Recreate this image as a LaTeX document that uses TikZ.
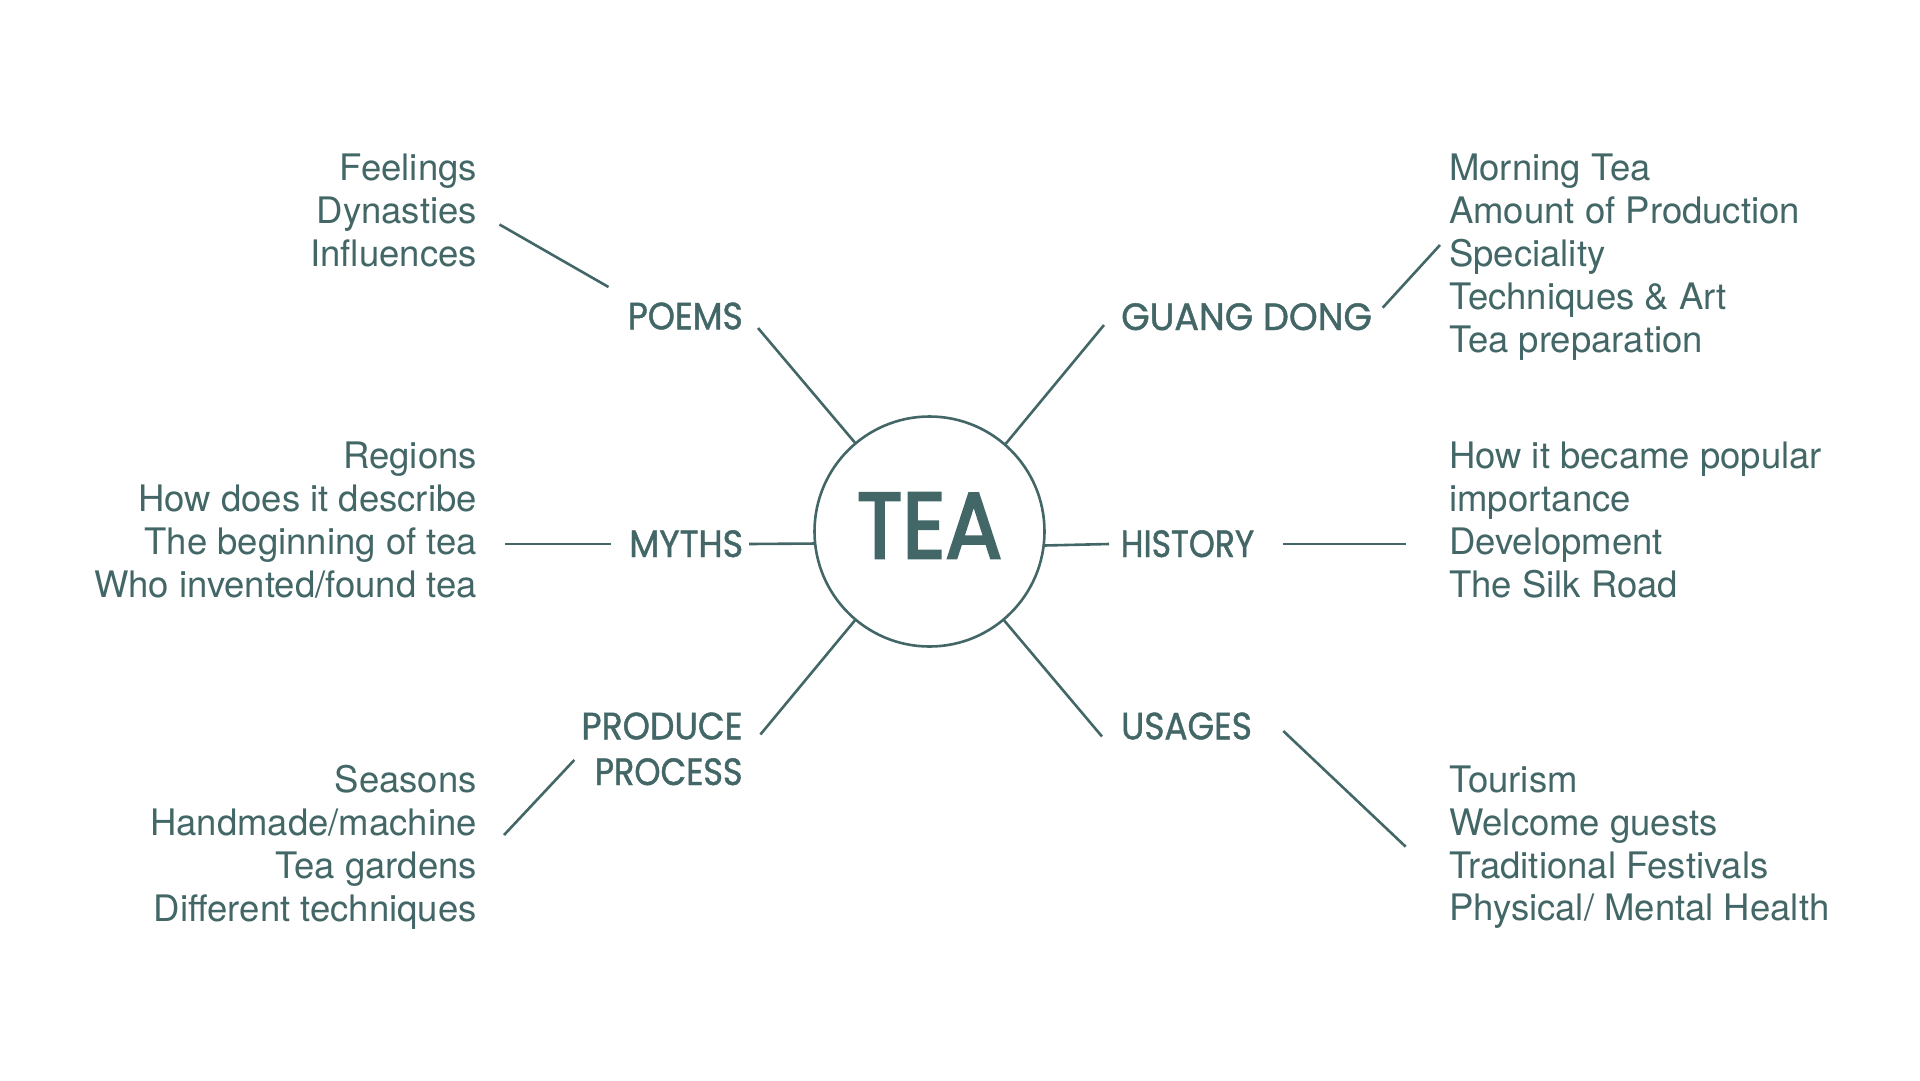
\documentclass[tikz,border=0pt]{standalone}
\usepackage{fontspec}
\usepackage{graphicx}
\setmainfont{TeX Gyre Heros}
\newfontfamily\labelfont{Poppins}[FakeBold=1.2]
\newfontfamily\centrefont{Poppins}[FakeBold=3]
\definecolor{teagrey}{RGB}{67,103,102}
\newcommand\fitlabel[2]{\resizebox{#1}{\height}{\fontsize{38}{38}\labelfont #2}}
\begin{document}
\begin{tikzpicture}[x=1pt,y=-1pt,
  item/.style={font=\fontsize{36.5}{43.3}\selectfont, text=teagrey, inner sep=0pt},
  itemR/.style={item, anchor=base east},
  itemL/.style={item, anchor=base west},
  topic/.style={text=teagrey, inner sep=0pt},
  topicR/.style={topic, anchor=base east},
  topicL/.style={topic, anchor=base west},
  link/.style={draw=teagrey, line width=2.6pt, line cap=butt}]
\fill[white] (0,0) rectangle (1920,1080);
\useasboundingbox (0,0) rectangle (1920,1080);

% centre
\node[circle, draw=teagrey, line width=2.6pt, minimum size=230pt, inner sep=0pt, outer sep=0pt] (tea) at (929.5,531.5) {};
\node[topic, anchor=base] (teatext) at (929.5,558) {\resizebox{145pt}{\height}{\fontsize{93}{93}\centrefont TEA}};

% topic labels
\node[topicR] (poems) at (743,329.3) {\fitlabel{115pt}{POEMS}};
\node[topicL] (guang) at (1121,330) {\fitlabel{250.7pt}{GUANG DONG}};
\node[topicR] (myths) at (743.3,557) {\fitlabel{113.8pt}{MYTHS}};
\node[topicL] (history) at (1120.5,557) {\fitlabel{133.5pt}{HISTORY}};
\node[topicR] (produce) at (742.7,739.3) {\fitlabel{161pt}{PRODUCE}};
\node[topicR] (process) at (742.7,785) {\fitlabel{147.7pt}{PROCESS}};
\node[topicL] (usages) at (1121,739.3) {\fitlabel{130.7pt}{USAGES}};

% item lists
\node[itemR] (pm1) at (477,180) {Feelings};
\node[itemR] (pm2) at (477,223.3) {Dynasties};
\node[itemR] (pm3) at (477,266.7) {Influences};

\node[itemL] (gd1) at (1449,180) {Morning Tea};
\node[itemL] (gd2) at (1449,223) {Amount of Production};
\node[itemL] (gd3) at (1449,266) {Speciality};
\node[itemL] (gd4) at (1449,309) {Techniques \& Art};
\node[itemL] (gd5) at (1449,352) {Tea preparation};

\node[itemR] (my1) at (477,468.7) {Regions};
\node[itemR] (my2) at (477,511.6) {How does it describe};
\node[itemR] (my3) at (477,554.4) {The beginning of tea};
\node[itemR] (my4) at (477,597.3) {Who invented/found tea};

\node[itemL] (hi1) at (1449,468.7) {How it became popular};
\node[itemL] (hi2) at (1449,511.6) {importance};
\node[itemL] (hi3) at (1449,554.4) {Development};
\node[itemL] (hi4) at (1449,597.3) {The Silk Road};

\node[itemR] (pp1) at (477,792) {Seasons};
\node[itemR] (pp2) at (477,835) {Handmade/machine};
\node[itemR] (pp3) at (477,878.3) {Tea gardens};
\node[itemR] (pp4) at (477,921) {Different techniques};

\node[itemL] (us1) at (1449,792.7) {Tourism};
\node[itemL] (us2) at (1449,835) {Welcome guests};
\node[itemL] (us3) at (1449,878.3) {Traditional Festivals};
\node[itemL] (us4) at (1449,920.7) {Physical/ Mental Health};

% connector end points
\coordinate (poemsIn) at (758,328);
\coordinate (poemsOutA) at (608.5,287);
\coordinate (poemsOutB) at (499.5,224.5);
\coordinate (guangIn) at (1104,325);
\coordinate (guangOutA) at (1382.7,307.7);
\coordinate (guangOutB) at (1440,245);
\coordinate (mythsIn) at (749,544);
\coordinate (mythsOutA) at (611,544);
\coordinate (mythsOutB) at (504.5,544);
\coordinate (histIn) at (1109,544);
\coordinate (histOutA) at (1283,544);
\coordinate (histOutB) at (1405.7,544);
\coordinate (prodIn) at (760.4,734.5);
\coordinate (prodOutA) at (574.3,760);
\coordinate (prodOutB) at (504,835);
\coordinate (usIn) at (1102,736.5);
\coordinate (usOutA) at (1283.3,731);
\coordinate (usOutB) at (1405.7,846.7);

% connectors
\draw[link] (tea.130.3) -- (poemsIn);
\draw[link] (poemsOutA) -- (poemsOutB);
\draw[link] (tea.49.9) -- (guangIn);
\draw[link] (guangOutA) -- (guangOutB);
\draw[link] (tea.186.2) -- (mythsIn);
\draw[link] (mythsOutA) -- (mythsOutB);
\draw[link] (tea.353.8) -- (histIn);
\draw[link] (histOutA) -- (histOutB);
\draw[link] (tea.230) -- (prodIn);
\draw[link] (prodOutA) -- (prodOutB);
\draw[link] (tea.310) -- (usIn);
\draw[link] (usOutA) -- (usOutB);
\end{tikzpicture}
\end{document}
